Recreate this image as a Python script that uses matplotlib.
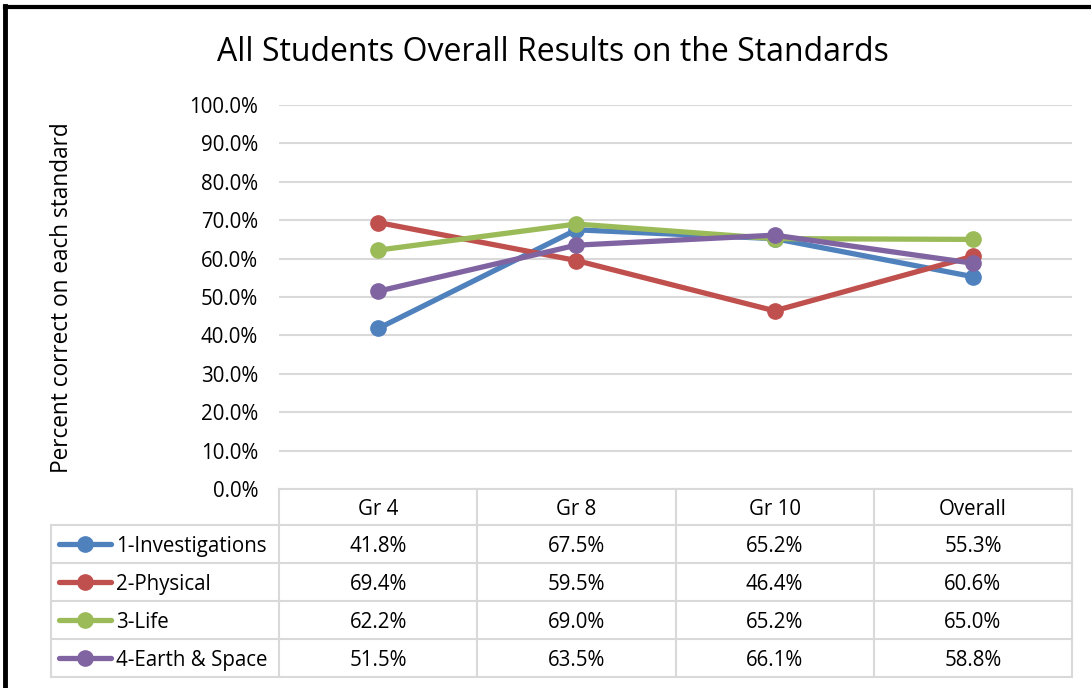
import matplotlib
matplotlib.use("Agg")
import matplotlib.pyplot as plt
from matplotlib.lines import Line2D

plt.rcParams['font.family'] = ['Open Sans', 'DejaVu Sans']

categories = ["Gr 4", "Gr 8", "Gr 10", "Overall"]
series_names = ["1-Investigations", "2-Physical", "3-Life", "4-Earth & Space"]
investigations = [41.8, 67.5, 65.2, 55.3]
physical = [69.4, 59.5, 46.4, 60.6]
life = [62.2, 69.0, 65.2, 65.0]
earth_space = [51.5, 63.5, 66.1, 58.8]
colors = ["#4F81BD", "#C0504D", "#9BBB59", "#8064A2"]
yticks = [0, 10, 20, 30, 40, 50, 60, 70, 80, 90, 100]

series = [investigations, physical, life, earth_space]

W, H = 1091, 688
fig = plt.figure(figsize=(W / 100, H / 100), dpi=100)

def fx(x):
    return x / W

def fy(y):
    return 1 - y / H

FS = 14.8
DY = 2.5
ax_l, ax_r, ax_t, ax_b = 279, 1072, 105, 489
ax = fig.add_axes([fx(ax_l), fy(ax_b), fx(ax_r) - fx(ax_l), fy(ax_t) - fy(ax_b)])
ax.set_xlim(-0.5, len(categories) - 0.5)
ax.set_ylim(0, 100)
ax.set_yticks(yticks)
ax.set_yticklabels([f"{v:.1f}%" for v in yticks], fontsize=FS)
ax.set_xticks([])
ax.tick_params(axis='y', length=0, pad=15)
ax.grid(axis='y', color='#d9d9d9', lw=1.5)
ax.set_axisbelow(True)
for s in ['top', 'right', 'left']:
    ax.spines[s].set_visible(False)
ax.spines['bottom'].set_color('#d9d9d9')
ax.spines['bottom'].set_linewidth(1.5)

xs = list(range(len(categories)))
for vals, c in zip(series, colors):
    ax.plot(xs, vals, color=c, lw=3.8, marker='o', ms=11, solid_capstyle='round', zorder=3)

fig.text(fx(62), fy(298), "Percent correct on each standard", rotation=90,
         ha='center', va='center', fontsize=16.3)

fig.text(fx(553), fy(50 + DY), "All Students Overall Results on the Standards",
         ha='center', va='center', fontsize=23)

# table
grid_c = '#d9d9d9'
col_w = (ax_r - ax_l) / len(categories)
row_tops = [525, 563, 601, 639, 677]
leg_l = 51

def hline(x0, x1, y):
    fig.add_artist(Line2D([fx(x0), fx(x1)], [fy(y), fy(y)], color=grid_c, lw=1.5))

def vline(x, y0, y1):
    fig.add_artist(Line2D([fx(x), fx(x)], [fy(y0), fy(y1)], color=grid_c, lw=1.5))

for y in row_tops:
    hline(leg_l, ax_r, y)
for i in range(len(categories) + 1):
    vline(ax_l + i * col_w, ax_b, row_tops[-1])
vline(leg_l, row_tops[0], row_tops[-1])

for i, cat in enumerate(categories):
    fig.text(fx(ax_l + (i + 0.5) * col_w), fy((ax_b + row_tops[0]) / 2 + DY), cat,
             ha='center', va='center', fontsize=FS)

for r, (name, vals, c) in enumerate(zip(series_names, series, colors)):
    yc = (row_tops[r] + row_tops[r + 1]) / 2
    fig.add_artist(Line2D([fx(59), fx(111)], [fy(yc), fy(yc)], color=c, lw=3.8,
                          solid_capstyle='round'))
    fig.add_artist(Line2D([fx(85)], [fy(yc)], color=c, marker='o', ms=11))
    fig.text(fx(116), fy(yc + DY), name, ha='left', va='center', fontsize=FS)
    for i, v in enumerate(vals):
        fig.text(fx(ax_l + (i + 0.5) * col_w), fy(yc + DY), f"{v:.1f}%",
                 ha='center', va='center', fontsize=FS)

# outer frame (top and left visible)
fig.add_artist(Line2D([fx(5), fx(W)], [fy(7), fy(7)], color='black', lw=3))
fig.add_artist(Line2D([fx(5), fx(5)], [fy(6), fy(H)], color='black', lw=3.5))

fig.savefig("out.png", dpi=100)
